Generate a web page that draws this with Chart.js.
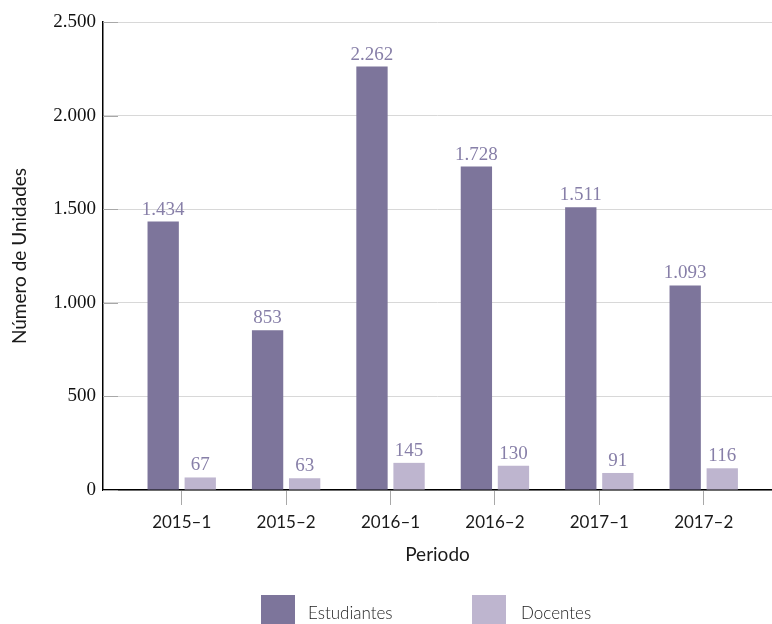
<!DOCTYPE html>
<html>
<head>
<meta charset="utf-8">
<script src="https://cdn.jsdelivr.net/npm/chart.js@4"></script>
<style>
  html, body { margin: 0; padding: 0; background: #fff; overflow: hidden; }
</style>
</head>
<body>
<canvas id="periodo-chart" width="772" height="624"></canvas>
<script>
const categories = ['2015–1', '2015–2', '2016–1', '2016–2', '2017–1', '2017–2'];
const estudiantes = [1434, 853, 2262, 1728, 1511, 1093];
const docentes = [67, 63, 145, 130, 91, 116];
const yTicks = [0, 500, 1000, 1500, 2000, 2500];

const darkPurple = 'rgb(125, 117, 155)';
const lightPurple = 'rgb(190, 181, 207)';
const labelPurple = 'rgb(135, 127, 168)';

function fmt(v) {
  return String(v).replace(/\B(?=(\d{3})+(?!\d))/g, '.');
}

// value labels above each bar
const barLabels = {
  id: 'barLabels',
  afterDatasetsDraw(chart) {
    const ctx = chart.ctx;
    ctx.save();
    ctx.font = '19px "Liberation Serif"';
    ctx.fillStyle = labelPurple;
    ctx.textAlign = 'center';
    ctx.textBaseline = 'alphabetic';
    chart.data.datasets.forEach((ds, i) => {
      chart.getDatasetMeta(i).data.forEach((bar, j) => {
        ctx.fillText(fmt(ds.data[j].y), bar.x, bar.y - 7);
      });
    });
    ctx.restore();
  }
};

// short darker tick marks on the inside of the y axis
const innerTicks = {
  id: 'innerTicks',
  beforeDatasetsDraw(chart) {
    const ctx = chart.ctx;
    const y = chart.scales.y;
    const left = chart.chartArea.left;
    ctx.save();
    ctx.strokeStyle = '#a8a8a8';
    ctx.lineWidth = 1;
    yTicks.forEach(t => {
      const py = Math.round(y.getPixelForValue(t)) + 0.5;
      ctx.beginPath();
      ctx.moveTo(left, py);
      ctx.lineTo(left + 15, py);
      ctx.stroke();
    });
    ctx.restore();
  }
};

// legend under the axis title
const bottomLegend = {
  id: 'bottomLegend',
  afterDraw(chart) {
    const ctx = chart.ctx;
    const items = [
      { x: 261, textX: 308 },
      { x: 472, textX: 521 }
    ];
    ctx.save();
    ctx.font = '300 17px Lato';
    ctx.textBaseline = 'alphabetic';
    ctx.textAlign = 'left';
    chart.data.datasets.forEach((ds, i) => {
      const it = items[i];
      ctx.fillStyle = ds.backgroundColor;
      ctx.fillRect(it.x, 595, 34, 29);
      ctx.fillStyle = '#222';
      ctx.fillText(ds.label, it.textX, 619);
    });
    ctx.restore();
  }
};

const ctx = document.getElementById('periodo-chart');
const chart = new Chart(ctx, {
  type: 'bar',
  data: {
    datasets: [{
      label: 'Estudiantes',
      data: estudiantes.map((v, i) => ({ x: i, y: v })),
      backgroundColor: darkPurple
    }, {
      label: 'Docentes',
      data: docentes.map((v, i) => ({ x: i, y: v })),
      backgroundColor: lightPurple
    }]
  },
  options: {
    responsive: false,
    animation: false,
    categoryPercentage: 0.71,
    barPercentage: 0.845,
    layout: { padding: { top: 22, right: 0, bottom: 0, left: 0 } },
    plugins: {
      legend: { display: false },
      tooltip: { enabled: false }
    },
    scales: {
      x: {
        type: 'linear',
        offset: false,
        min: -0.754,
        max: 5.654,
        afterBuildTicks: axis => { axis.ticks = categories.map((c, i) => ({ value: i })); },
        afterFit: axis => { axis.height = 134; },
        ticks: {
          callback: v => categories[v],
          font: { family: 'Lato', size: 17 },
          color: '#1a1a1a',
          padding: 7,
          maxRotation: 0,
          autoSkip: false
        },
        grid: {
          offset: false,
          drawOnChartArea: false,
          drawTicks: true,
          tickLength: 15,
          color: '#a8a8a8'
        },
        border: { color: '#000', width: 1.5 },
        title: {
          display: true,
          text: 'Periodo',
          font: { family: 'Lato', size: 19 },
          color: '#1a1a1a',
          padding: { top: 0, bottom: 58 }
        }
      },
      y: {
        min: 0,
        max: 2500,
        afterBuildTicks: axis => { axis.ticks = yTicks.map(v => ({ value: v })); },
        afterFit: axis => { axis.width = 103; },
        ticks: {
          callback: v => fmt(v),
          font: { family: 'Liberation Serif', size: 19 },
          color: '#111',
          padding: 7
        },
        grid: {
          color: '#d8d8d8',
          drawTicks: false,
          tickLength: 0
        },
        border: { color: '#000', width: 1.5 },
        title: {
          display: true,
          text: 'Número de Unidades',
          font: { family: 'Lato', size: 19 },
          color: '#1a1a1a',
          padding: { top: 8, bottom: 0 }
        }
      }
    }
  },
  plugins: [innerTicks, barLabels, bottomLegend]
});
</script>
</body>
</html>
